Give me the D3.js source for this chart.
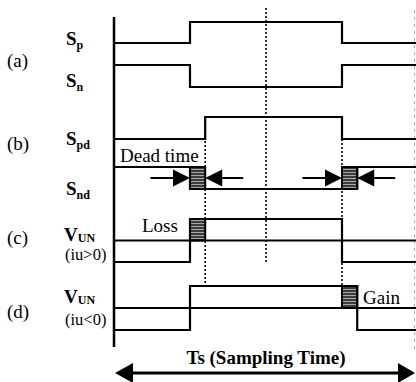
<!DOCTYPE html>
<html>
<head>
<meta charset="utf-8">
<script src="https://cdn.jsdelivr.net/npm/d3@7"></script>
<style>
body { margin: 0; background: #fff; }
svg { display: block; background: #fff; }
text { font-family: "Liberation Serif", "Times New Roman", serif; fill: #000; }
</style>
</head>
<body>
<script>
// switching instants, in % of the sampling period Ts
var rowLabels = ['(a)', '(b)', '(c)', '(d)'];
var spSteps = [[0, 0], [25, 1], [75, 0]];
var snSteps = [[0, 1], [25, 0], [75, 1]];
var spdSteps = [[0, 0], [30, 1], [75, 0]];
var sndSteps = [[0, 1], [25, 0], [80, 1]];
var vunPosSteps = [[0, -1], [25, 1], [75, -1]];
var vunNegSteps = [[0, -1], [25, 1], [80, -1]];
var deadBoxes = [[25, 30], [75, 80]];
var lossBox = [25, 30];
var gainBox = [75, 80];
var annotations = ['Dead time', 'Loss', 'Gain'];
var axisTitle = 'Ts (Sampling Time)';

var width = 416;
var height = 382;
var svg = d3.select('body').append('svg')
  .attr('width', width)
  .attr('height', height);

var x = d3.scaleLinear().domain([0, 100]).range([114, 418]);

var defs = svg.append('defs');
var pat = defs.append('pattern')
  .attr('id', 'shade')
  .attr('width', 4).attr('height', 3)
  .attr('patternUnits', 'userSpaceOnUse');
pat.append('rect').attr('width', 4).attr('height', 3).attr('fill', '#3c3c3c');
pat.append('rect').attr('y', 1).attr('width', 4).attr('height', 1).attr('fill', '#a8a8a8');

// one entry per waveform; y maps logic level to pixels
var rows = [
  { main: 'S', sub: 'p', steps: spSteps, y: d3.scaleLinear().domain([0, 1]).range([43, 22]), ly: 45 },
  { main: 'S', sub: 'n', steps: snSteps, y: d3.scaleLinear().domain([0, 1]).range([87, 65]), ly: 87 },
  { main: 'S', sub: 'pd', steps: spdSteps, y: d3.scaleLinear().domain([0, 1]).range([139, 117]), ly: 145 },
  { main: 'S', sub: 'nd', steps: sndSteps, y: d3.scaleLinear().domain([0, 1]).range([189, 167]), ly: 195 },
  { main: 'V', sub: 'UN', note: '(iu>0)', steps: vunPosSteps, y: d3.scaleLinear().domain([-1, 1]).range([262, 219]), ly: 241, ny: 260 },
  { main: 'V', sub: 'UN', note: '(iu<0)', steps: vunNegSteps, y: d3.scaleLinear().domain([-1, 1]).range([330, 286]), ly: 303, ny: 325 }
];

// dotted guide lines
function guide(t, y1, y2) {
  svg.append('line')
    .attr('x1', x(t)).attr('x2', x(t))
    .attr('y1', y1).attr('y2', y2)
    .attr('stroke', '#000')
    .attr('stroke-width', 1.6)
    .attr('stroke-dasharray', '2,2');
}
guide(50, 8, 263);
guide(spdSteps[1][0], rows[2].y(1), rows[5].y(1));
guide(spdSteps[2][0], rows[2].y(0), rows[5].y(1));

// faint dashed line at the right edge
svg.append('line')
  .attr('x1', width - 1.5).attr('x2', width - 1.5)
  .attr('y1', 10).attr('y2', 350)
  .attr('stroke', '#aaa')
  .attr('stroke-width', 1)
  .attr('stroke-dasharray', '3,4');

// shaded boxes
function box(b, y1, y2) {
  svg.append('rect')
    .attr('x', x(b[0])).attr('y', y1)
    .attr('width', x(b[1]) - x(b[0]))
    .attr('height', y2 - y1)
    .attr('fill', 'url(#shade)')
    .attr('stroke', '#000')
    .attr('stroke-width', 2);
}
deadBoxes.forEach(function (b) { box(b, rows[3].y(1), rows[3].y(0)); });
box(lossBox, rows[4].y(1), rows[4].y(0));
box(gainBox, rows[5].y(1), rows[5].y(0));

// zero lines of the voltage rows
rows.filter(function (r) { return r.note; }).forEach(function (r) {
  svg.append('line')
    .attr('x1', x(0)).attr('x2', x(100))
    .attr('y1', r.y(0)).attr('y2', r.y(0))
    .attr('stroke', '#000').attr('stroke-width', 2);
});

// waveforms
rows.forEach(function (r) {
  var pts = r.steps.concat([[100, r.steps[r.steps.length - 1][1]]]);
  var line = d3.line()
    .x(function (d) { return x(d[0]); })
    .y(function (d) { return r.y(d[1]); })
    .curve(d3.curveStepAfter);
  svg.append('path')
    .attr('d', line(pts))
    .attr('fill', 'none')
    .attr('stroke', '#000')
    .attr('stroke-width', 2.2);

  var t = svg.append('text')
    .attr('x', r.main === 'S' ? 66 : 64)
    .attr('y', r.ly)
    .style('font-weight', 'bold');
  t.append('tspan').style('font-size', '19px').text(r.main);
  t.append('tspan').style('font-size', '12px')
    .attr('dy', r.note ? 1 : 4).text(r.sub);
  if (r.note) {
    svg.append('text')
      .attr('x', 65)
      .attr('y', r.ny)
      .style('font-size', '16.5px')
      .text(r.note);
  }
});

// vertical axis
svg.append('line')
  .attr('x1', x(0)).attr('x2', x(0))
  .attr('y1', 17).attr('y2', 347)
  .attr('stroke', '#000').attr('stroke-width', 2.5);

// row letters
var letterY = [67, 150, 244, 318];
svg.selectAll('text.row')
  .data(rowLabels)
  .enter().append('text')
  .attr('class', 'row')
  .attr('x', 7)
  .attr('y', function (d, i) { return letterY[i]; })
  .style('font-size', '19px')
  .text(function (d) { return d; });

// dead time arrows
function arrow(tip, tail, yy, head, half, sw) {
  var dir = tail > tip ? 1 : -1;
  svg.append('line')
    .attr('x1', tail).attr('x2', tip + dir * head * 0.5)
    .attr('y1', yy).attr('y2', yy)
    .attr('stroke', '#000').attr('stroke-width', sw);
  svg.append('path')
    .attr('d', 'M' + tip + ',' + yy +
      'L' + (tip + dir * head) + ',' + (yy - half) +
      'L' + (tip + dir * head) + ',' + (yy + half) + 'Z')
    .attr('fill', '#000');
}
var ay = (rows[3].y(0) + rows[3].y(1)) / 2;
deadBoxes.forEach(function (b) {
  arrow(x(b[0]), x(b[0] - 13), ay, 17, 8.5, 2);
  arrow(x(b[1]), x(b[1] + 12.5), ay, 17, 8.5, 2);
});

// annotations
svg.append('text').attr('x', 120).attr('y', 162).style('font-size', '19px').text(annotations[0]);
svg.append('text').attr('x', 142).attr('y', 232).style('font-size', '19px').text(annotations[1]);
svg.append('text').attr('x', 363).attr('y', 304).style('font-size', '19px').text(annotations[2]);

// Ts span arrow
svg.append('text')
  .attr('x', x(50)).attr('y', 364)
  .attr('text-anchor', 'middle')
  .style('font-size', '19px')
  .style('font-weight', 'bold')
  .text(axisTitle);
svg.append('line')
  .attr('x1', x(0) + 10).attr('x2', width - 11)
  .attr('y1', 373).attr('y2', 373)
  .attr('stroke', '#000').attr('stroke-width', 3);
arrow(x(0) + 1, x(0) + 30, 373, 18, 10, 0);
arrow(width - 1, width - 30, 373, 17, 10, 0);
</script>
</body>
</html>
